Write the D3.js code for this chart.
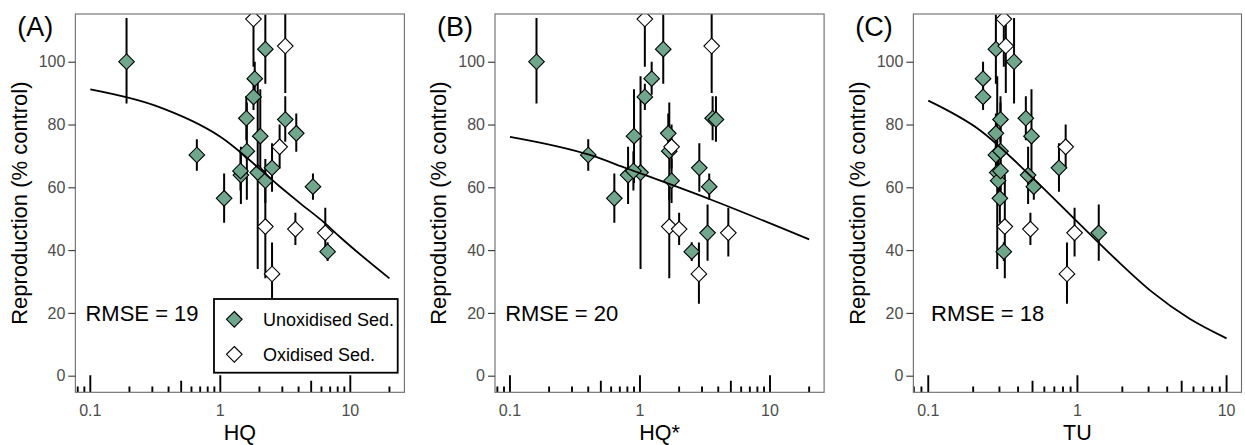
<!DOCTYPE html>
<html><head><meta charset="utf-8">
<script src="https://cdn.jsdelivr.net/npm/d3@7"></script>
<style>
body{margin:0;background:#fff;}
text{font-family:"Liberation Sans", Arial, Helvetica, sans-serif;}
</style>
</head><body>
<svg id="chart" width="1245" height="445"></svg>
<script>
// ---------- data (one entry per sediment sample) ----------
const sampleType = ["U","U","U","U","U","U","U","U","U","U","U","U","U","U","U","U","U","U","U",
                    "O","O","O","O","O","O","O"];
const reproduction = [100, 70.3, 56.5, 63.9, 82, 71.5, 88.8, 94.6, 64.7, 76.3, 62.1, 104, 66.2, 81.6, 77.2, 60.2, 39.5, 45.5, 65.2,
                      113.6, 105, 72.9, 47.5, 46.7, 45.5, 32.4];
const reproLow  = [86.7, 65.3, 48.7, 54.7, 75, 56, 84.6, 89.5, 34, 61.4, 55, 93, 58.6, 74.5, 71.3, 56, 36.5, 36.6, 59,
                   98.4, 90, 66, 31, 41.6, 38, 22.9];
const reproHigh = [113.9, 75.3, 64.4, 72.9, 89, 87, 93, 100, 95.4, 91.2, 69, 115, 74, 89, 83.5, 64.4, 42.5, 54.5, 71.5,
                   129, 120, 80, 64, 51.9, 53.5, 42.4];
const hq     = [0.19, 0.66, 1.07, 1.44, 1.585, 1.60, 1.80, 1.84, 1.94, 2.03, 2.22, 2.22, 2.50, 3.16, 3.84, 5.16, 6.69, null, 1.43,
                1.80, 3.16, 2.86, 2.22, 3.78, 6.42, 2.50];
const hqStar = [0.16, 0.40, 0.635, 0.81, 3.62, 1.68, 1.09, 1.23, 1.01, 0.90, 1.75, 1.51, 2.86, 3.84, 1.65, 3.41, 2.5, 3.31, 0.89,
                1.09, 3.56, 1.75, 1.68, 2.0, 4.78, 2.84];
const tu     = [0.376, 0.284, 0.302, 0.467, 0.451, 0.305, 0.233, 0.233, 0.29, 0.492, 0.294, 0.284, 0.752, 0.305, 0.284, 0.51, 0.321, 1.39, 0.305,
                0.321, 0.331, 0.834, 0.326, 0.484, 0.957, 0.851];

// fitted curves
const curveHQx = [0.1, 0.316, 1, 2.88, 4.12, 6.53, 8.37, 20];
const curveHQy = [91.2, 86, 76.1, 60.2, 54.9, 48.2, 44.1, 31];
const curveHQSx = [0.1, 0.412, 0.794, 3.45, 20];
const curveHQSy = [76.1, 70.3, 66, 56.2, 43.4];
const curveTUx = [0.1, 0.222, 0.479, 1, 1.78, 3.16, 5.62, 10];
const curveTUy = [87.6, 78.2, 63.9, 49, 37.4, 26.7, 18.2, 11.9];

const yTicks = [0, 20, 40, 60, 80, 100];
const xTickLabels = [0.1, 1, 10];
const legendLabels = ["Unoxidised Sed.", "Oxidised Sed."];
const panelLabels = ["(A)", "(B)", "(C)"];
const xTitles = ["HQ", "HQ*", "TU"];
const rmseTexts = ["RMSE = 19", "RMSE = 20", "RMSE = 18"];

// ---------- layout ----------
const GREEN = "#70a68b";
const plotTop = 14, plotBottom = 392.3;
const panels = [
  {xs: hq,     cx: curveHQx,  cy: curveHQy,  lim: [0.1, 20], left: 75.35, right: 404.4, legend: true},
  {xs: hqStar, cx: curveHQSx, cy: curveHQSy, lim: [0.1, 20], left: 495.0, right: 824.1, legend: false},
  {xs: tu,     cx: curveTUx,  cy: curveTUy,  lim: [0.1, 10], left: 913.35, right: 1241.5, legend: false}
];

const svg = d3.select("#chart");
const y = d3.scaleLinear().domain([-5.29, 115.2]).range([plotBottom, plotTop]);
const diamond = r => `M0,${-r}L${r},0L0,${r}L${-r},0Z`;
const R = 7.8;

panels.forEach((p, i) => {
  const lo = Math.log10(p.lim[0]), hi = Math.log10(p.lim[1]);
  const ext = 0.05 * (hi - lo);
  const x = d3.scaleLog().domain([Math.pow(10, lo - ext), Math.pow(10, hi + ext)]).range([p.left, p.right]);
  const g = svg.append("g");
  const clipId = "clip" + i;
  svg.append("clipPath").attr("id", clipId).append("rect")
    .attr("x", p.left).attr("y", plotTop).attr("width", p.right - p.left).attr("height", plotBottom - plotTop);

  const plot = g.append("g").attr("clip-path", `url(#${clipId})`);

  // log ticks inside bottom
  const dom = x.domain();
  const lt = [];
  for (let e = -3; e <= 3; e++) {
    for (let m = 1; m <= 9; m++) {
      const v = m * Math.pow(10, e);
      if (v >= dom[0] && v <= dom[1]) lt.push({v, len: m === 1 ? 17 : (m === 5 ? 11.5 : 5.7)});
    }
  }
  plot.selectAll("line.lt").data(lt).enter().append("line")
    .attr("x1", d => x(d.v)).attr("x2", d => x(d.v))
    .attr("y1", plotBottom).attr("y2", d => plotBottom - d.len)
    .attr("stroke", "#000").attr("stroke-width", 1.9);

  const idx = d3.range(reproduction.length).filter(k => p.xs[k] != null);
  const order = idx.filter(k => sampleType[k] === "U").concat(idx.filter(k => sampleType[k] === "O"));

  // error bars
  plot.selectAll("line.eb").data(order).enter().append("line")
    .attr("x1", k => x(p.xs[k])).attr("x2", k => x(p.xs[k]))
    .attr("y1", k => y(reproLow[k])).attr("y2", k => y(reproHigh[k]))
    .attr("stroke", "#000").attr("stroke-width", 2);

  // points
  plot.selectAll("path.pt").data(order).enter().append("path")
    .attr("d", diamond(R))
    .attr("transform", k => `translate(${x(p.xs[k])},${y(reproduction[k])})`)
    .attr("fill", k => sampleType[k] === "U" ? GREEN : "#fff")
    .attr("stroke", "#000").attr("stroke-width", 1.1);

  // fitted curve
  const line = d3.line().x(d => x(d[0])).y(d => y(d[1])).curve(d3.curveMonotoneX);
  plot.append("path").datum(p.cx.map((v, j) => [v, p.cy[j]]))
    .attr("d", line).attr("fill", "none").attr("stroke", "#000").attr("stroke-width", 1.8);

  // RMSE
  g.append("text").attr("x", x(0.25)).attr("y", y(20)).attr("dy", "0.36em")
    .attr("text-anchor", "middle").attr("font-size", 22).attr("fill", "#000").text(rmseTexts[i]);

  // legend
  if (p.legend) {
    const lg = g.append("g");
    lg.append("rect").attr("x", 214).attr("y", 299).attr("width", 183.7).attr("height", 73.7)
      .attr("fill", "#fff").attr("stroke", "#000").attr("stroke-width", 1.8);
    legendLabels.forEach((t, j) => {
      const cy = 319.3 + j * 35;
      lg.append("path").attr("d", diamond(R)).attr("transform", `translate(234.3,${cy})`)
        .attr("fill", j === 0 ? GREEN : "#fff").attr("stroke", "#000").attr("stroke-width", 1.1);
      lg.append("text").attr("x", 263).attr("y", cy).attr("dy", "0.35em")
        .attr("font-size", 18).attr("fill", "#000").text(t);
    });
  }

  // border
  g.append("rect").attr("x", p.left).attr("y", plotTop).attr("width", p.right - p.left).attr("height", plotBottom - plotTop)
    .attr("fill", "none").attr("stroke", "#6b6b6b").attr("stroke-width", 1.1);

  // y axis
  const ya = g.append("g").attr("transform", `translate(${p.left},0)`)
    .call(d3.axisLeft(y).tickValues(yTicks).tickSize(7).tickPadding(3));
  ya.select(".domain").remove();
  ya.selectAll(".tick line").attr("stroke", "#333").attr("stroke-width", 1.1);
  ya.selectAll(".tick text").attr("fill", "#4d4d4d").attr("font-size", 16)
    .attr("font-family", "Liberation Sans, Arial, sans-serif");

  // x tick labels
  g.selectAll("text.xt").data(xTickLabels.filter(v => v >= dom[0] && v <= dom[1])).enter().append("text")
    .attr("x", d => x(d)).attr("y", 415.5).attr("text-anchor", "middle")
    .attr("font-size", 16).attr("fill", "#4d4d4d").text(d => String(d));

  // x title
  g.append("text").attr("x", (p.left + p.right) / 2).attr("y", 439.5).attr("text-anchor", "middle")
    .attr("font-size", 21.5).attr("fill", "#000").text(xTitles[i]);

  // y title
  g.append("text").attr("transform", `translate(${p.left - 48.7},${(plotTop + plotBottom) / 2}) rotate(-90)`)
    .attr("text-anchor", "middle").attr("font-size", 22).attr("fill", "#000").text("Reproduction (% control)");

  // panel label
  g.append("text").attr("x", p.left - 58).attr("y", 36).attr("font-size", 27).attr("fill", "#000").text(panelLabels[i]);
});
</script>
</body></html>
